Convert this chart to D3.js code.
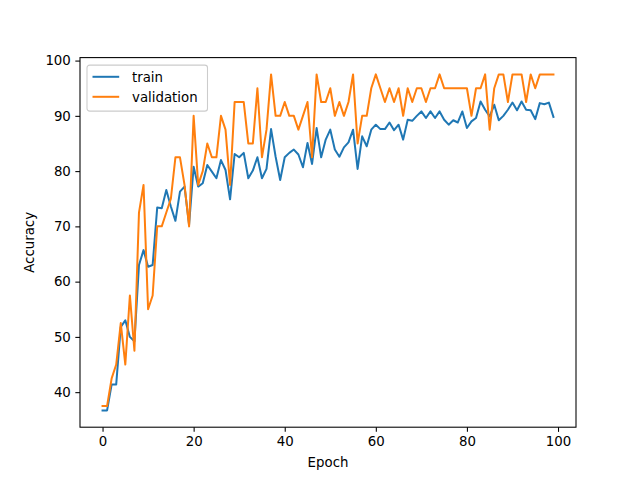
<!DOCTYPE html>
<html>
<head>
<meta charset="utf-8">
<script src="https://d3js.org/d3.v7.min.js"></script>
<style>
    body { margin: 0; background: #fff; }
    svg text { font-family: "DejaVu Sans", sans-serif; fill: #000; }
</style>
</head>
<body>
<div id="chart"></div>
<script>
// accuracy per epoch
var train = [36.7, 36.7, 41.4, 41.4, 51.8, 53.0, 50.0, 49.2, 63.0, 65.7,
    62.7, 63.0, 73.4, 73.3, 76.6, 73.6, 71.0, 76.3, 77.2, 70.3,
    80.8, 77.2, 77.8, 81.1, 79.9, 78.7, 82.0, 80.2, 74.9, 83.1,
    82.5, 83.3, 78.7, 80.1, 82.5, 78.7, 80.4, 87.6, 82.6, 78.4,
    82.5, 83.3, 83.9, 83.0, 80.7, 85.1, 81.3, 87.8, 82.5, 85.7,
    87.5, 83.9, 82.6, 84.3, 85.2, 87.5, 80.4, 86.3, 84.5, 87.5,
    88.4, 87.6, 87.6, 88.8, 87.4, 88.4, 85.7, 89.3, 89.1, 90.0,
    90.8, 89.6, 90.8, 89.6, 90.8, 89.3, 88.4, 89.2, 88.8, 90.8,
    87.8, 89.0, 89.6, 92.6, 91.1, 89.9, 92.0, 89.2, 90.0, 91.1,
    92.4, 91.0, 92.6, 91.1, 91.0, 89.4, 92.3, 92.1, 92.4, 89.8];

var validation = [37.5, 37.5, 42.5, 45.0, 52.5, 45.0, 57.5, 47.5, 72.5, 77.5,
    55.0, 57.5, 70.0, 70.0, 72.5, 75.0, 82.5, 82.5, 77.5, 70.0,
    90.0, 77.5, 80.0, 85.0, 82.5, 82.5, 90.0, 87.5, 77.5, 92.5,
    92.5, 92.5, 85.0, 85.0, 95.0, 82.5, 87.5, 97.5, 90.0, 90.0,
    92.5, 90.0, 90.0, 87.5, 90.0, 92.5, 82.5, 97.5, 92.5, 92.5,
    95.0, 90.0, 92.5, 90.0, 92.5, 97.5, 85.0, 90.0, 90.0, 95.0,
    97.5, 95.0, 92.5, 95.0, 92.5, 95.0, 90.0, 95.0, 92.5, 95.0,
    95.0, 92.5, 95.0, 95.0, 97.5, 95.0, 95.0, 95.0, 95.0, 95.0,
    95.0, 90.0, 95.0, 95.0, 97.5, 87.5, 95.0, 97.5, 97.5, 92.5,
    97.5, 97.5, 97.5, 92.5, 97.5, 95.0, 97.5, 97.5, 97.5, 97.5];

var xTicks = [0, 20, 40, 60, 80, 100];
var yTicks = [40, 50, 60, 70, 80, 90, 100];
var seriesNames = ["train", "validation"];
var colors = ["#1f77b4", "#ff7f0e"];

var canvasWidth = 640;
var canvasHeight = 480;
var margin = {left: 80, right: 64, top: 57.6, bottom: 52.8};
var width = canvasWidth - margin.left - margin.right;
var height = canvasHeight - margin.top - margin.bottom;

var svg = d3.select("#chart").append("svg")
    .attr("width", canvasWidth)
    .attr("height", canvasHeight);

var g = svg.append("g")
    .attr("transform", "translate(" + margin.left + "," + margin.top + ")");

// matplotlib style 5% padding around the data
var n = train.length;
var xPad = (n - 1) * 0.05;
var all = train.concat(validation);
var yMin = d3.min(all), yMax = d3.max(all);
var yPad = (yMax - yMin) * 0.05;

var xScale = d3.scaleLinear().domain([-xPad, n - 1 + xPad]).range([0, width]);
var yScale = d3.scaleLinear().domain([yMin - yPad, yMax + yPad]).range([height, 0]);

var line = d3.line()
    .x(function(d, i) { return xScale(i); })
    .y(function(d) { return yScale(d); });

[train, validation].forEach(function(series, k) {
    g.append("path")
        .datum(series)
        .attr("fill", "none")
        .attr("stroke", colors[k])
        .attr("stroke-width", 2)
        .attr("stroke-linejoin", "round")
        .attr("stroke-linecap", "square")
        .attr("d", line);
});

// axes
var xAxis = g.append("g")
    .attr("transform", "translate(0," + height + ")")
    .call(d3.axisBottom(xScale).tickValues(xTicks).tickSize(4.67).tickPadding(4.5).tickFormat(d3.format("d")));
var yAxis = g.append("g")
    .call(d3.axisLeft(yScale).tickValues(yTicks).tickSize(4.67).tickPadding(4.5).tickFormat(d3.format("d")));

[xAxis, yAxis].forEach(function(ax) {
    ax.select(".domain").remove();
    ax.selectAll(".tick line").attr("stroke", "#000").attr("stroke-width", 1.07);
    ax.selectAll(".tick text").attr("font-size", "13.33px").attr("fill", "#000");
});

// frame
g.append("rect")
    .attr("width", width)
    .attr("height", height)
    .attr("fill", "none")
    .attr("stroke", "#000")
    .attr("stroke-width", 1.07);

g.append("text")
    .attr("x", width / 2)
    .attr("y", height + 40)
    .attr("text-anchor", "middle")
    .attr("font-size", "13.33px")
    .text("Epoch");

g.append("text")
    .attr("transform", "rotate(-90)")
    .attr("x", -height / 2)
    .attr("y", -46)
    .attr("text-anchor", "middle")
    .attr("font-size", "13.33px")
    .text("Accuracy");

// legend
var legend = g.append("g").attr("transform", "translate(7,7.5)");
legend.append("rect")
    .attr("width", 120.5)
    .attr("height", 46)
    .attr("rx", 2.7)
    .attr("fill", "#fff")
    .attr("fill-opacity", 0.8)
    .attr("stroke", "#cccccc")
    .attr("stroke-width", 1.07);

seriesNames.forEach(function(name, k) {
    var yy = 11.7 + k * 20;
    legend.append("line")
        .attr("x1", 5.5).attr("x2", 32.2)
        .attr("y1", yy).attr("y2", yy)
        .attr("stroke", colors[k])
        .attr("stroke-width", 2);
    legend.append("text")
        .attr("x", 45)
        .attr("y", yy)
        .attr("dy", "0.36em")
        .attr("font-size", "13.33px")
        .text(name);
});
</script>
</body>
</html>
